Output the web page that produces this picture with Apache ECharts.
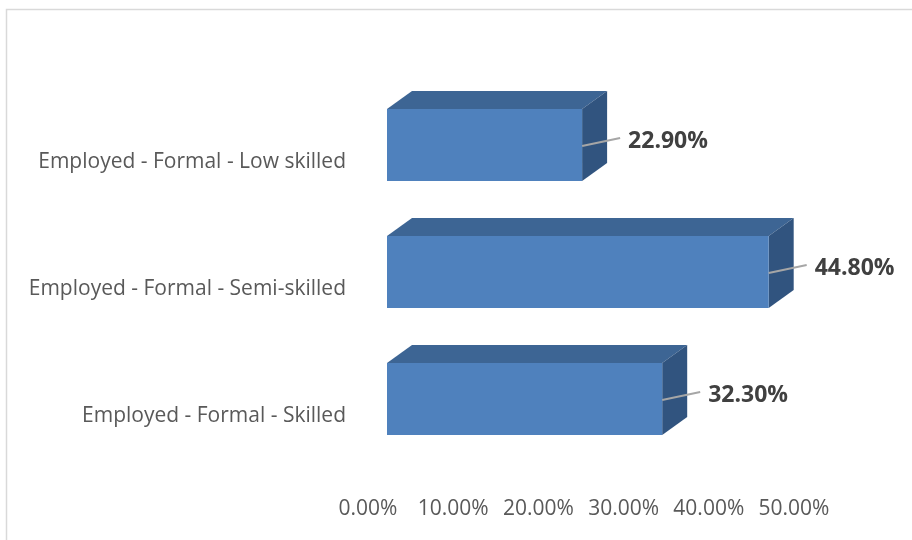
<!DOCTYPE html>
<html>
<head>
<meta charset="utf-8">
<script src="https://cdn.jsdelivr.net/npm/echarts@6/dist/echarts.min.js"></script>
<style>
  html, body { margin: 0; padding: 0; background: #ffffff; }
  #chart { width: 912px; height: 540px; }
</style>
</head>
<body>
<div id="chart"></div>
<script>
// Employment categories (top to bottom) and their shares in percent
const categories = [
  'Employed - Formal - Low skilled',
  'Employed - Formal - Semi-skilled',
  'Employed - Formal - Skilled'
];
const shares = [22.9, 44.8, 32.3];
const axisMin = 0;
const axisMax = 50;
const axisStep = 10;

// 3D bar look: oblique depth of each box and face colours
const DEPTH_X = 25;
const DEPTH_Y = 18;
const FRONT = '#4F81BD';
const TOP = '#3D6594';
const SIDE = '#31547F';

const chart = echarts.init(document.getElementById('chart'), null, { renderer: 'canvas' });

function renderBox(params, api) {
  const cat = api.value(0);
  const val = api.value(1);
  const p0 = api.coord([0, cat]);
  const p1 = api.coord([val, cat]);
  const band = api.size([0, 1])[1];
  const h = band * 0.567;
  const cy = p0[1];
  const yT = cy - h / 2;
  const yB = cy + h / 2;
  const xL = p0[0];
  const xR = p1[0];
  return {
    type: 'group',
    children: [
      {
        type: 'polygon',
        shape: { points: [[xL, yT], [xL + DEPTH_X, yT - DEPTH_Y], [xR + DEPTH_X, yT - DEPTH_Y], [xR, yT]] },
        style: { fill: TOP }
      },
      {
        type: 'polygon',
        shape: { points: [[xR, yT], [xR + DEPTH_X, yT - DEPTH_Y], [xR + DEPTH_X, yB - DEPTH_Y], [xR, yB]] },
        style: { fill: SIDE }
      },
      {
        type: 'rect',
        shape: { x: xL, y: yT, width: xR - xL, height: h },
        style: { fill: FRONT }
      },
      {
        type: 'line',
        shape: { x1: xR, y1: cy + 1, x2: xR + 38, y2: cy - 7 },
        style: { stroke: '#A6A6A6', lineWidth: 2 }
      },
      {
        type: 'text',
        x: xR + 46,
        y: cy - 4,
        style: {
          text: val.toFixed(2) + '%',
          fill: '#404040',
          font: 'bold 23px "Open Sans"',
          textAlign: 'left',
          textVerticalAlign: 'middle'
        }
      }
    ]
  };
}

chart.setOption({
  backgroundColor: '#ffffff',
  animation: false,
  graphic: [{
    type: 'rect',
    shape: { x: 6.5, y: 9.5, width: 1000, height: 1000 },
    style: { fill: 'none', stroke: '#D9D9D9', lineWidth: 1.5 },
    silent: true
  }],
  grid: { left: 387, right: 99, top: 81.5, bottom: 77.5 },
  xAxis: {
    type: 'value',
    min: axisMin,
    max: axisMax,
    interval: axisStep,
    axisLine: { show: false },
    axisTick: { show: false },
    splitLine: { show: false },
    axisLabel: {
      margin: 36,
      formatter: v => '{t|' + v.toFixed(2) + '%}',
      rich: {
        t: { color: '#595959', fontFamily: 'Open Sans', fontSize: 21, padding: [0, 38, 0, 0] }
      }
    }
  },
  yAxis: {
    type: 'category',
    data: categories,
    inverse: true,
    axisLine: { show: false },
    axisTick: { show: false },
    splitLine: { show: false },
    axisLabel: {
      margin: 41,
      formatter: v => '{c|' + v + '}',
      rich: {
        c: { color: '#595959', fontFamily: 'Open Sans', fontSize: 21, padding: [34, 0, 0, 0] }
      }
    }
  },
  series: [{
    type: 'custom',
    renderItem: renderBox,
    data: shares.map((v, i) => [i, v]),
    encode: { x: 1, y: 0 },
    clip: false
  }]
});
</script>
</body>
</html>
